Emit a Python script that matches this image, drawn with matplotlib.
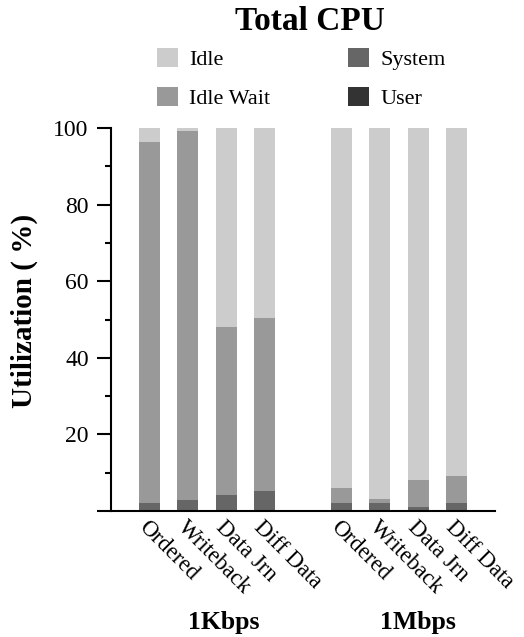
import matplotlib
matplotlib.use("Agg")
import matplotlib.pyplot as plt
from matplotlib.patches import Patch
import numpy as np

plt.rcParams["font.family"] = "serif"
plt.rcParams["font.serif"] = ["Liberation Serif", "Times New Roman", "DejaVu Serif"]

# per-mode CPU breakdown (%), 1Kbps group then 1Mbps group
modes = ["Ordered", "Writeback", "Data Jrn", "Diff Data"]
groups = ["1Kbps", "1Mbps"]
user = [0.0, 0.0, 0.0, 0.0, 0.0, 0.0, 0.0, 0.0]
system = [2.1, 3.0, 4.1, 5.1, 2.1, 2.1, 1.0, 2.1]
idle_wait = [94.2, 96.3, 43.9, 45.2, 4.0, 1.0, 7.0, 7.0]
idle = [3.7, 0.7, 52.0, 49.7, 93.9, 96.9, 92.0, 90.9]

layers = [("User", user, "#333333"),
          ("System", system, "#666666"),
          ("Idle Wait", idle_wait, "#999999"),
          ("Idle", idle, "#cccccc")]

fig = plt.figure(figsize=(5.24, 6.37), dpi=100)
W, H = 524, 637
ax = fig.add_axes([111 / W, 1 - 511 / H, (495 - 111) / W, (511 - 128) / H])

# two groups of four bars with an empty slot between them
xpos = np.array([0, 1, 2, 3, 5, 6, 7, 8])
bottom = np.zeros(len(xpos))
for name, vals, col in layers:
    ax.bar(xpos, vals, width=0.55, bottom=bottom, color=col,
           edgecolor="none", label=name)
    bottom += np.array(vals)

ax.set_xlim(-1, 9)
ax.set_ylim(0, 100)
for s in ["top", "right"]:
    ax.spines[s].set_visible(False)
for s in ["left", "bottom"]:
    ax.spines[s].set_linewidth(1.5)

ax.set_yticks([0, 20, 40, 60, 80, 100])
ax.set_yticklabels(["", "20", "40", "60", "80", "100"], fontsize=17)
ax.set_yticks([10, 30, 50, 70, 90], minor=True)
ax.tick_params(axis="y", which="major", direction="out", length=10, width=1.5, pad=6)
ax.tick_params(axis="y", which="minor", direction="out", length=4.5, width=1.5)

ax.set_xticks(xpos)
ax.set_xticklabels(modes * 2, fontsize=16.5, rotation=-45, ha="left",
                   va="top", rotation_mode="anchor")
ax.tick_params(axis="x", length=0, pad=4)

fig.text(24 / W, 1 - 311 / H, "Utilization ( %)", rotation=90,
         ha="center", va="center", fontsize=21, fontweight="bold")

for gx, g in zip([224, 418], groups):
    fig.text(gx / W, 1 - 622 / H, g, ha="center", va="center",
             fontsize=18.5, fontweight="bold")

fig.text(310 / W, 1 - 22 / H, "Total CPU", ha="center", va="center",
         fontsize=24, fontweight="bold")

handles = [Patch(facecolor=c, label=n) for n, _, c in
           [layers[3], layers[2], layers[1], layers[0]]]
fig.legend(handles=handles, ncol=2, loc="upper left",
           bbox_to_anchor=(157 / W, 1 - 48 / H), frameon=False,
           fontsize=16, handlelength=0.95, handleheight=0.95,
           handletextpad=0.5, columnspacing=3.5, labelspacing=0.75,
           borderpad=0, borderaxespad=0)

fig.savefig("out.png", dpi=100, facecolor="white")
